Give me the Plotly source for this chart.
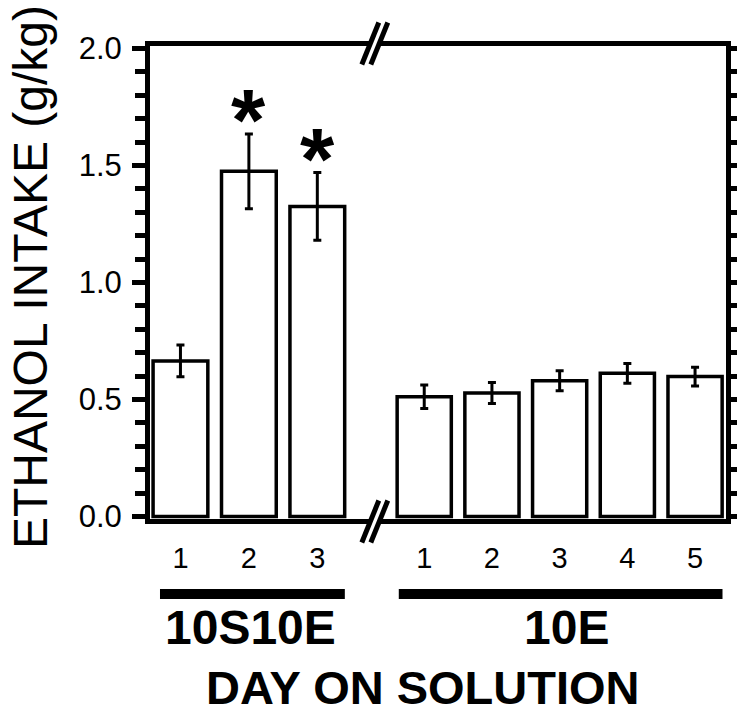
import plotly.graph_objects as go

# ---- data ----
days_a = ["1", "2", "3"]
intake_a = [0.665, 1.475, 1.325]
sem_a = [0.068, 0.160, 0.145]
sig_a = ["", "*", "*"]

days_b = ["1", "2", "3", "4", "5"]
intake_b = [0.512, 0.528, 0.580, 0.612, 0.598]
sem_b = [0.050, 0.045, 0.043, 0.042, 0.040]

group_labels = ["10S10E", "10E"]
y_title = "ETHANOL INTAKE (g/kg)"
x_title = "DAY ON SOLUTION"

# ---- geometry helpers (pixel -> paper) ----
W, H = 737, 713
ML, MR, MT, MB = 150, 10.5, 46, 194
PW, PH = W - ML - MR, H - MT - MB
BREAK_PX = 375
Y0_PX, Y2_PX = 521.5, 43.5          # pixel rows of y=0 and y=2
UNIT = (Y0_PX - Y2_PX) / 2.0
y_lo = ((H - MB) - Y0_PX) / UNIT     # slightly below 0
y_hi = 2.0 + (MT - Y2_PX) / UNIT     # slightly above 2


def px(x):
    return (x - ML) / PW


def py(y):
    return (H - MB - y) / PH


split = px(BREAK_PX)

fig = go.Figure()

bar_style = dict(marker=dict(color="white", line=dict(color="black", width=3.5)),
                 width=0.8, showlegend=False, hoverinfo="skip")
err_style = dict(type="data", visible=True, color="black", thickness=3, width=4)

fig.add_trace(go.Bar(x=days_a, y=intake_a, xaxis="x", yaxis="y",
                     error_y=dict(array=sem_a, **err_style), **bar_style))
fig.add_trace(go.Bar(x=days_b, y=intake_b, xaxis="x2", yaxis="y2",
                     error_y=dict(array=sem_b, **err_style), **bar_style))

tickfont = dict(family="Liberation Sans, Arial", size=29, color="black")

fig.update_layout(
    template="none",
    width=W, height=H,
    margin=dict(l=ML, r=MR, t=MT, b=MB, pad=0, autoexpand=False),
    paper_bgcolor="white", plot_bgcolor="white",
    xaxis=dict(domain=[0, split], type="category", range=[-0.445, 2.84],
               showline=True, linewidth=5, linecolor="black", mirror=True,
               ticks="", showgrid=False, zeroline=False, tickfont=tickfont,
               ticklabelstandoff=9, anchor="y", automargin=False),
    xaxis2=dict(domain=[split, 1], type="category", range=[-0.73, 4.457],
                showline=True, linewidth=5, linecolor="black", mirror=True,
                ticks="", showgrid=False, zeroline=False, tickfont=tickfont,
                ticklabelstandoff=9, anchor="y2", automargin=False),
    yaxis=dict(range=[y_lo, y_hi], tick0=0, dtick=0.5, tickformat=".1f", anchor="x",
               showline=True, linewidth=5, linecolor="black",
               ticks="outside", ticklen=13, tickwidth=5, tickcolor="black",
               minor=dict(tick0=0, dtick=0.1, ticks="outside", ticklen=10, tickwidth=5,
                          tickcolor="black", showgrid=False),
               showgrid=False, zeroline=False, automargin=False,
               tickfont=dict(family="Liberation Sans, Arial", size=31, color="black"),
               ticklabelstandoff=4),
    yaxis2=dict(range=[y_lo, y_hi], tick0=0, dtick=0.1, anchor="x2", side="right",
                showline=True, linewidth=5, linecolor="black",
                ticks="outside", ticklen=9, tickwidth=5, tickcolor="black",
                showticklabels=False, showgrid=False, zeroline=False,
                automargin=False),
)

# significance asterisks (x given as category index)
for i, (v, e, s) in enumerate(zip(intake_a, sem_a, sig_a)):
    if s:
        fig.add_annotation(x=i, y=v + e, xref="x", yref="y", text=f"<b>{s}</b>",
                           showarrow=False, yanchor="bottom", yshift=-37,
                           font=dict(family="Liberation Sans, Arial", size=88,
                                     color="black"))

# axis break marks
shapes = []
for yb in (43.5, 521.5):
    shapes.append(dict(type="rect", xref="paper", yref="paper",
                       x0=px(BREAK_PX - 5), x1=px(BREAK_PX + 5),
                       y0=py(yb + 4), y1=py(yb - 4),
                       fillcolor="white", line=dict(width=0), layer="above"))
    for off in (-4.5, 4.5):
        cx = BREAK_PX + off
        shapes.append(dict(type="line", xref="paper", yref="paper",
                           x0=px(cx - 8.5), y0=py(yb + 21),
                           x1=px(cx + 8.5), y1=py(yb - 21),
                           line=dict(color="black", width=5), layer="above"))

# group underline bars
shapes.append(dict(type="line", xref="paper", yref="paper",
                   x0=px(160), x1=px(345), y0=py(594), y1=py(594),
                   line=dict(color="black", width=10)))
shapes.append(dict(type="line", xref="paper", yref="paper",
                   x0=px(399), x1=px(723), y0=py(594), y1=py(594),
                   line=dict(color="black", width=10)))
fig.update_layout(shapes=shapes)

bold = dict(family="Liberation Sans, Arial", size=48, color="black")
fig.add_annotation(x=px(251), y=py(627), xref="paper", yref="paper",
                   text=f"<b>{group_labels[0]}</b>", showarrow=False,
                   xanchor="center", yanchor="middle", font=bold)
fig.add_annotation(x=px(567), y=py(627), xref="paper", yref="paper",
                   text=f"<b>{group_labels[1]}</b>", showarrow=False,
                   xanchor="center", yanchor="middle", font=bold)
fig.add_annotation(x=px(423), y=py(687), xref="paper", yref="paper",
                   text=f"<b>{x_title}</b>", showarrow=False,
                   xanchor="center", yanchor="middle",
                   font=dict(family="Liberation Sans, Arial", size=47, color="black"))
fig.add_annotation(x=px(30), y=py(277), xref="paper", yref="paper",
                   text=y_title, showarrow=False, textangle=-90,
                   xanchor="center", yanchor="middle",
                   font=dict(family="Liberation Sans, Arial", size=48, color="black"))

fig.write_html("out.html",
               config={"displayModeBar": False},
               post_script="document.body.style.margin='0';"
                           "document.body.style.overflow='hidden';")
